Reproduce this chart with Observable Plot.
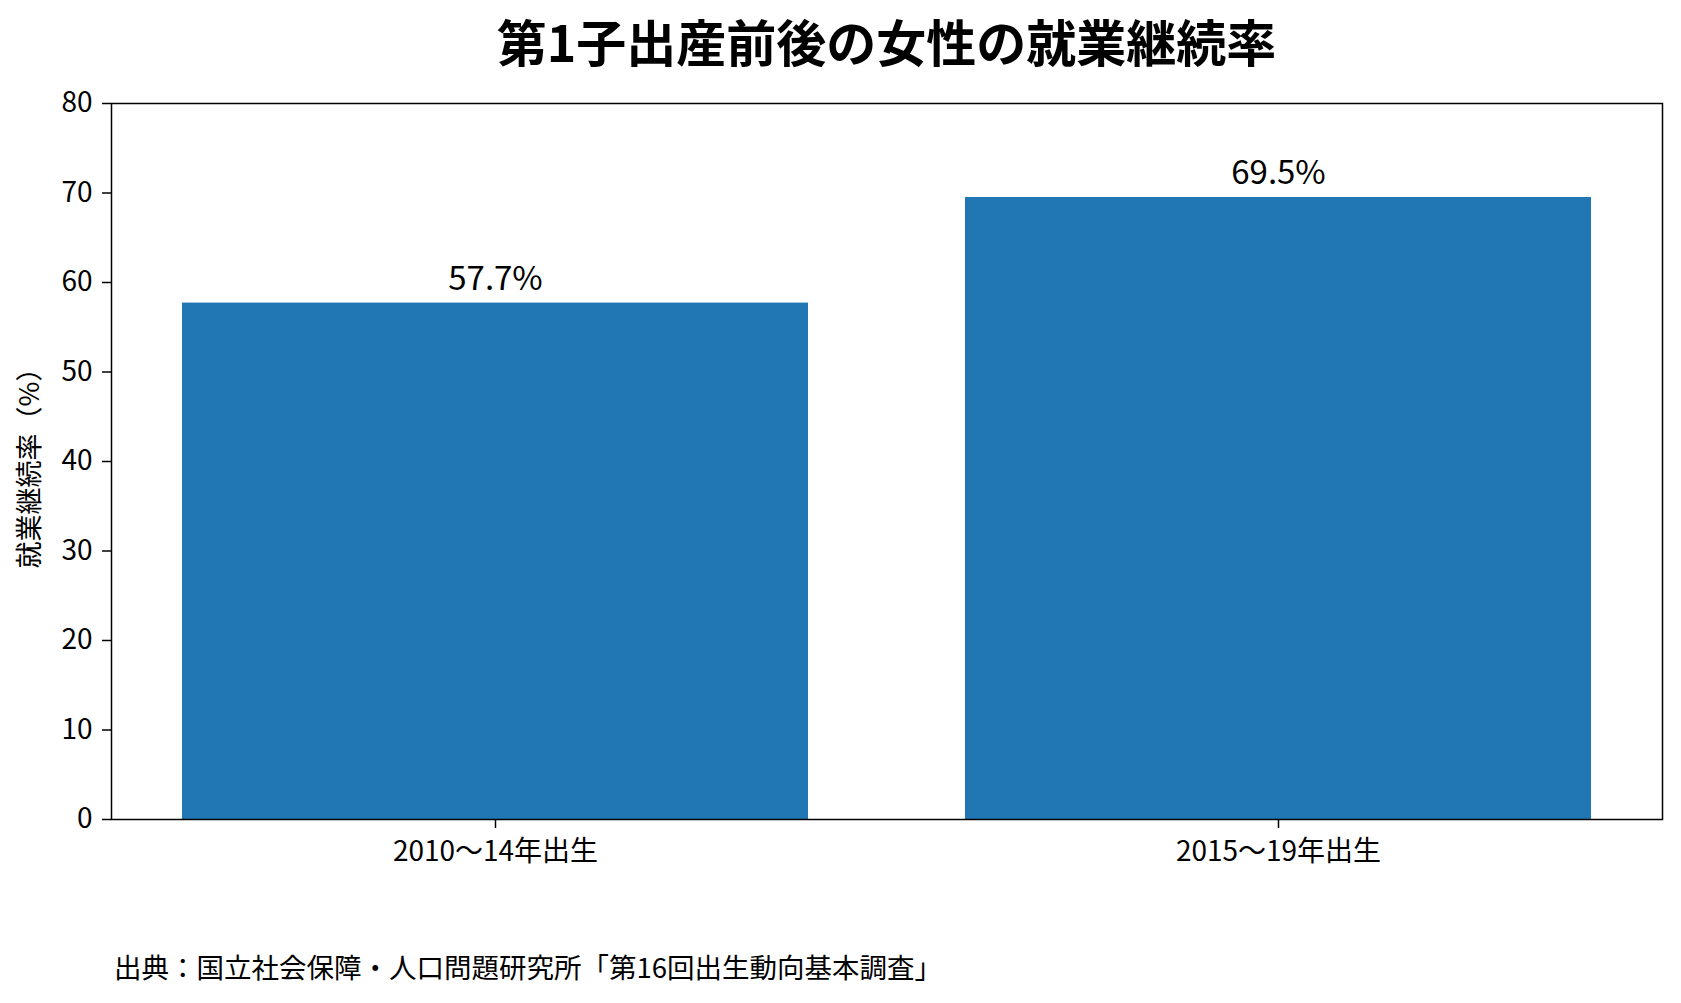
<!DOCTYPE html>
<html lang="ja">
<head>
<meta charset="utf-8">
<script src="https://cdn.jsdelivr.net/npm/d3@7"></script>
<script src="https://cdn.jsdelivr.net/npm/@observablehq/plot@0.6"></script>
<style>
  html, body { margin: 0; padding: 0; background: #fff; }
  body { width: 1681px; height: 1003px; position: relative; overflow: hidden;
         font-family: "Noto Sans CJK JP", "Noto Sans", sans-serif; color: #000; }
  #title { position: absolute; top: 15px; left: 92px; width: 1589px; text-align: center;
           font-size: 50px; line-height: 50px; font-weight: 700; }
  #chart { position: absolute; top: 80px; left: 0; }
  #caption { position: absolute; top: 952px; left: 114px; font-size: 27.5px; line-height: 28px; }
</style>
</head>
<body>
<div id="title"></div>
<div id="chart"></div>
<div id="caption"></div>
<script>
const titleText = "第1子出産前後の女性の就業継続率";
const captionText = "出典：国立社会保障・人口問題研究所「第16回出生動向基本調査」";
const yLabel = "就業継続率（%）";
const categories = ["2010〜14年出生", "2015〜19年出生"];
const values = [57.7, 69.5];
const yTicks = [0, 10, 20, 30, 40, 50, 60, 70, 80];

const data = categories.map((c, i) => ({category: c, value: values[i]}));

document.getElementById("title").textContent = titleText;
document.getElementById("caption").textContent = captionText;

const chart = Plot.plot({
  width: 1681,
  height: 799,
  marginLeft: 111,
  marginRight: 19,
  marginTop: 23,
  marginBottom: 60,
  style: {fontFamily: "'Noto Sans CJK JP', 'Noto Sans', sans-serif", fontSize: "28px", color: "#000", background: "#fff"},
  x: {type: "band", domain: categories, paddingInner: 0.2, paddingOuter: 0.09},
  y: {domain: [0, 80]},
  marks: [
    Plot.barY(data, {x: "category", y: "value", fill: "#2077b4"}),
    Plot.text(data, {x: "category", y: "value", text: d => d.value.toFixed(1) + "%", dy: -13, lineAnchor: "bottom", fontSize: 33, fill: "#000"}),
    Plot.axisY({ticks: yTicks, tickSize: 9, tickPadding: 10, strokeWidth: 1.5, label: null, fontSize: 28}),
    Plot.axisX({tickSize: 9, tickPadding: 13, strokeWidth: 1.5, label: null, fontSize: 28}),
    Plot.text([yLabel], {text: d => d, frameAnchor: "left", dx: -81, rotate: -90, textAnchor: "middle", lineAnchor: "middle", fontSize: 27, fill: "#000"}),
    Plot.frame({stroke: "#000", strokeWidth: 1.5})
  ]
});
document.getElementById("chart").appendChild(chart);
</script>
</body>
</html>
